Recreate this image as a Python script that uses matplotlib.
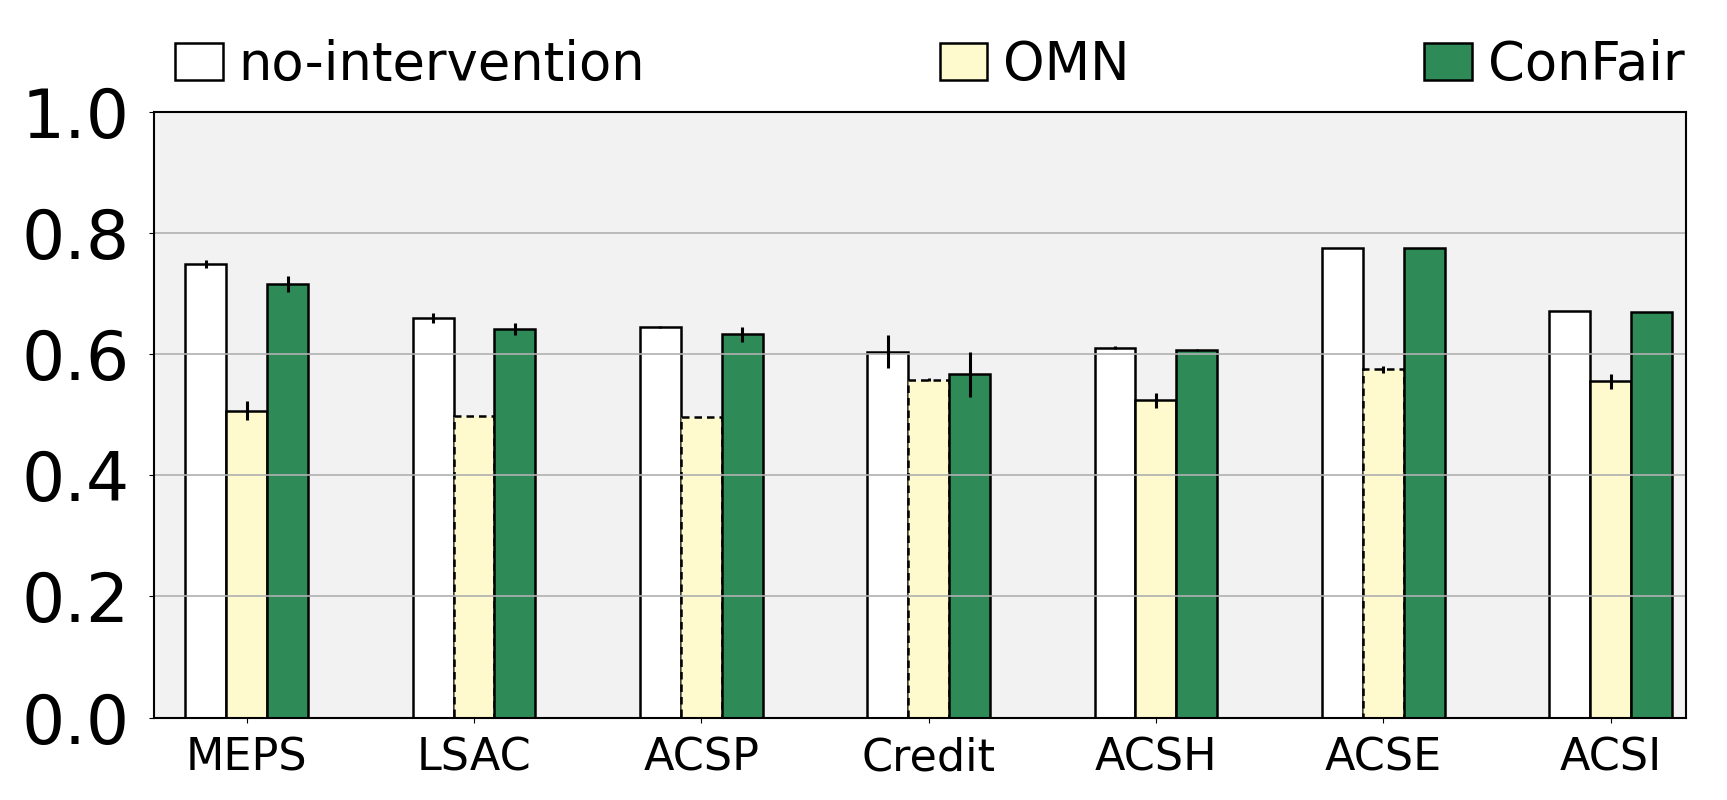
import numpy as np
import matplotlib
matplotlib.use('Agg')
import matplotlib.pyplot as plt

datasets = ['MEPS', 'LSAC', 'ACSP', 'Credit', 'ACSH', 'ACSE', 'ACSI']
methods = ['no-intervention', 'OMN', 'ConFair']

no_int = [0.749, 0.660, 0.645, 0.604, 0.611, 0.775, 0.671]
no_int_err = [0.007, 0.008, 0.001, 0.027, 0.002, 0.0, 0.0]
omn = [0.507, 0.498, 0.496, 0.558, 0.524, 0.575, 0.555]
omn_err = [0.015, 0.0, 0.0, 0.003, 0.012, 0.006, 0.013]
confair = [0.716, 0.642, 0.633, 0.567, 0.607, 0.776, 0.669]
confair_err = [0.013, 0.010, 0.012, 0.037, 0.002, 0.0, 0.0]
# OMN bars drawn with dashed outline
omn_dashed = [False, True, True, True, False, True, False]

colors = ['white', '#fffacd', '#2e8b57']

fig = plt.figure(figsize=(17.27, 8), dpi=100)
ax = fig.add_axes([0.0893, 0.103, 0.8867, 0.757])
ax.set_facecolor('#f2f2f2')

x = np.arange(len(datasets))
w = 0.18
series = [(no_int, no_int_err), (omn, omn_err), (confair, confair_err)]
for i, (vals, errs) in enumerate(series):
    pos = x + (i - 1) * w
    bars = ax.bar(pos, vals, w, color=colors[i], edgecolor='black',
                  linewidth=1.8, label=methods[i])
    if i == 1:
        for b, d in zip(bars, omn_dashed):
            if d:
                b.set_linestyle((0, (3, 2)))
    ax.errorbar(pos, vals, yerr=errs, fmt='none', ecolor='black',
                elinewidth=2.2, capsize=0, zorder=3)

ax.set_ylim(0, 1.0)
ax.set_xlim(-0.407, 6.33)
ax.set_yticks([0.0, 0.2, 0.4, 0.6, 0.8, 1.0])
ax.set_xticks(x)
ax.set_xticklabels(datasets, fontsize=32)
ax.tick_params(axis='y', labelsize=49, pad=14)
ax.tick_params(axis='x', pad=10)
ax.yaxis.grid(True, color='#b0b0b0', linewidth=1.2)
for s in ax.spines.values():
    s.set_linewidth(1.5)

ax.legend(loc='lower left', bbox_to_anchor=(0, 1.0, 1.013, 0.115), mode='expand',
          ncol=3, frameon=False, fontsize=38, handlelength=0.9,
          handleheight=0.7, handletextpad=0.3, borderaxespad=0)

plt.savefig('out.png', dpi=100)
plt.close()
